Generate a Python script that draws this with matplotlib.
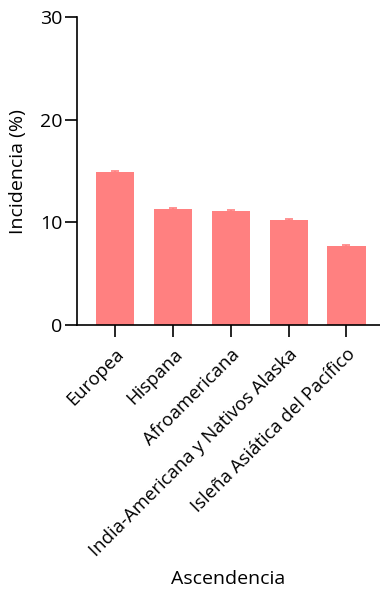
import matplotlib.pyplot as plt

grupos = ['Europea', 'Hispana', 'Afroamericana',
          'India-Americana y Nativos Alaska', 'Isleña Asiática del Pacífico']
incidencia = [14.9, 11.3, 11.1, 10.2, 7.7]
error = [0.12, 0.1, 0.1, 0.1, 0.1]

plt.rcParams['font.family'] = ['Open Sans', 'DejaVu Sans']

fig = plt.figure(figsize=(3.8, 5.9), dpi=100)
ax = fig.add_axes([0.203, 0.449, 0.797, 0.522])
x = range(len(grupos))
ax.bar(x, incidencia, width=0.66, color='#ff8080', yerr=error,
       error_kw=dict(ecolor='#ff8080', capsize=3, elinewidth=1.2, capthick=1.2))
ax.set_xlim(-0.66, 4.58)
ax.set_ylim(0, 30)
ax.set_yticks([0, 10, 20, 30])
ax.set_xticks(list(x))
ax.set_xticklabels(grupos, rotation=45, ha='right', rotation_mode='anchor', fontsize=13.3)
ax.tick_params(axis='y', labelsize=14, length=8.5, width=1.2, pad=2)
ax.tick_params(axis='x', length=8.5, width=1.2, pad=6)
for s in ['top', 'right']:
    ax.spines[s].set_visible(False)
for s in ['left', 'bottom']:
    ax.spines[s].set_linewidth(1.2)
ax.set_ylabel('Incidencia (%)', fontsize=14)
ax.set_xlabel('Ascendencia', fontsize=14)
ax.yaxis.set_label_coords(-0.165, 0.5)
ax.xaxis.set_label_coords(0.5, -0.795)
fig.savefig('out.png')
